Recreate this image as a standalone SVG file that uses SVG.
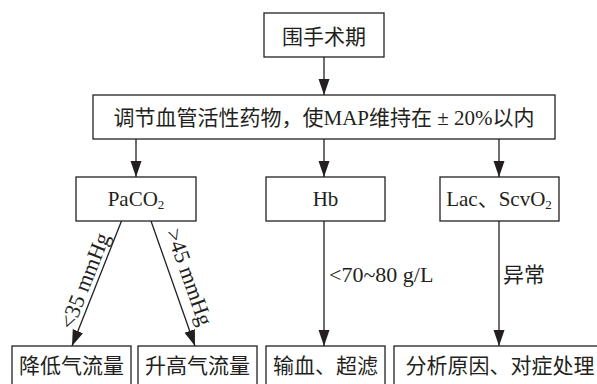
<svg xmlns="http://www.w3.org/2000/svg" width="597" height="384" viewBox="0 0 597 384">
<defs>
<marker id="ah" markerUnits="userSpaceOnUse" markerWidth="17" markerHeight="12" refX="16" refY="5.5" orient="auto">
<path d="M0,0 L16,5.5 L0,11 Z" fill="#231f20"/>
</marker>
<style>
rect{fill:#fff;stroke:#231f20;stroke-width:1.3}
text{font-family:"Liberation Serif","Noto Sans CJK SC",serif;font-size:21px;fill:#231f20}
.c{text-anchor:middle}
.l{font-size:22px}
#edges line{stroke:#231f20;stroke-width:1.3;marker-end:url(#ah)}
</style>
</defs>
<rect width="597" height="384" fill="#fff" stroke="none" style="stroke:none"/>
<g id="edges">
<line x1="324" y1="57" x2="324" y2="95"/>
<line x1="136" y1="139" x2="136" y2="177"/>
<line x1="324" y1="139" x2="324" y2="177"/>
<line x1="499" y1="139" x2="499" y2="177"/>
<line x1="121.5" y1="221" x2="72" y2="346"/>
<line x1="151" y1="221" x2="195" y2="346"/>
<line x1="324" y1="221" x2="324" y2="346"/>
<line x1="499" y1="221" x2="499" y2="346"/>
<text transform="translate(91.5,283.5) rotate(-68.4)" class="c l">&lt;35 mmHg</text>
<text transform="translate(182.5,279.5) rotate(70.6)" class="c l">&gt;45 mmHg</text>
<text x="329" y="282" class="l">&lt;70~80 g/L</text>
<text x="503" y="282">异常</text>
</g>
<g id="n1"><rect x="264" y="13" width="120" height="44"/><text class="c" x="324" y="44">围手术期</text></g>
<g id="n2"><rect x="93" y="95" width="462" height="44"/><text class="c" x="324" y="125">调节血管活性药物，使MAP维持在 ± 20%以内</text></g>
<g id="n3"><rect x="76" y="177" width="120" height="44"/><text class="c" x="136" y="206">PaCO<tspan font-size="13" dy="3">2</tspan></text></g>
<g id="n4"><rect x="266" y="177" width="119" height="44"/><text class="c" x="325.5" y="206">Hb</text></g>
<g id="n5"><rect x="440" y="177" width="119" height="44"/><text class="c" x="499" y="206">Lac、ScvO<tspan font-size="13" dy="3">2</tspan></text></g>
<g id="n6"><rect x="12" y="346" width="119" height="50"/><text class="c" x="71.5" y="373">降低气流量</text></g>
<g id="n7"><rect x="138" y="346" width="119" height="50"/><text class="c" x="197.5" y="373">升高气流量</text></g>
<g id="n8"><rect x="266" y="346" width="119" height="50"/><text class="c" x="325.5" y="373">输血、超滤</text></g>
<g id="n9"><rect x="394" y="346" width="215" height="50"/><text class="c" x="500" y="373">分析原因、对症处理</text></g>
</svg>
